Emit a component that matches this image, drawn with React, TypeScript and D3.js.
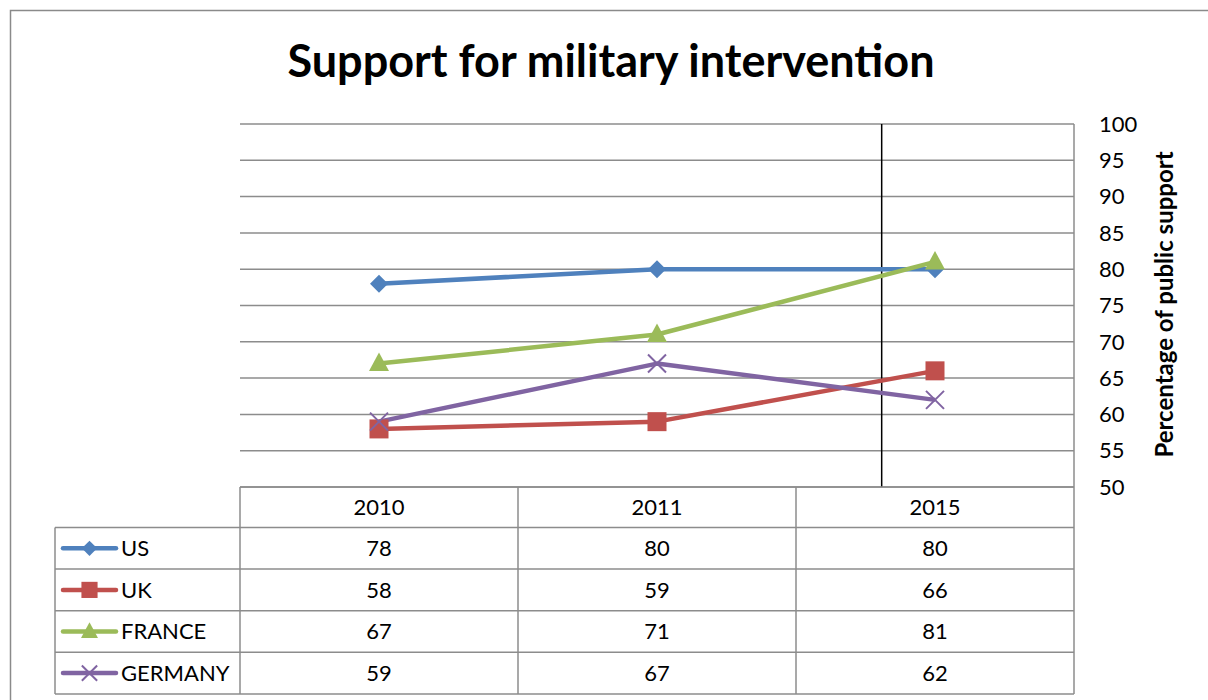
import React from "react";
import * as d3 from "d3";

const categories = ["2010", "2011", "2015"];
const seriesNames = ["US", "UK", "FRANCE", "GERMANY"];
const usValues = [78, 80, 80];
const ukValues = [58, 59, 66];
const franceValues = [67, 71, 81];
const germanyValues = [59, 67, 62];
const yTicks = [50, 55, 60, 65, 70, 75, 80, 85, 90, 95, 100];
const markerLineCategoryPos = 2.31; // vertical marker line position in category units

const colors = ["#4F81BD", "#C0504D", "#9BBB59", "#8064A2"];
const markers = ["diamond", "square", "triangle", "x"];
const allValues = [usValues, ukValues, franceValues, germanyValues];

const W = 1208;
const H = 700;
const plotL = 240;
const plotR = 1074;
const plotT = 124;
const plotB = 487;
const tableL = 55;
const headerH = 40.5;
const rowH = 41.6;
const font = "Lato, 'Open Sans', sans-serif";
const gridColor = "#8c8c8c";

function Marker({ type, x, y, color, s = 1 }: { type: string; x: number; y: number; color: string; s?: number }) {
  if (type === "diamond") {
    const r = 9 * s;
    return <path d={`M${x},${y - r}L${x + r},${y}L${x},${y + r}L${x - r},${y}Z`} fill={color} />;
  }
  if (type === "square") {
    const r = 9.5 * s;
    return <rect x={x - r} y={y - r} width={2 * r} height={2 * r} fill={color} />;
  }
  if (type === "triangle") {
    const r = 10 * s;
    return <path d={`M${x},${y - r * 1.1}L${x + r},${y + r * 0.75}L${x - r},${y + r * 0.75}Z`} fill={color} />;
  }
  const r = 9 * s;
  return (
    <path d={`M${x - r},${y - r}L${x + r},${y + r}M${x - r},${y + r}L${x + r},${y - r}`} stroke={color} strokeWidth={2} fill="none" />
  );
}

export default function App() {
  const x = d3.scaleBand<string>().domain(categories).range([plotL, plotR]).paddingInner(0).paddingOuter(0);
  const y = d3.scaleLinear().domain([50, 100]).range([plotB, plotT]);
  const cx = (c: string) => (x(c) as number) + x.bandwidth() / 2;
  const line = d3
    .line<number>()
    .x((_, i) => cx(categories[i]))
    .y((v) => y(v));
  const vlineX = plotL + x.bandwidth() * markerLineCategoryPos - 0.5;

  const tableBottom = plotB + headerH + rowH * seriesNames.length;

  return (
    <svg
      width={W}
      height={H}
      style={{ position: "absolute", left: 0, top: 0, background: "#fff" }}
      fontFamily={font}
    >
      <rect x={0} y={0} width={W} height={H} fill="#fff" />
      {/* outer chart border */}
      <rect x={10.5} y={10.5} width={W + 20} height={H + 20} fill="none" stroke="#8a8a8a" strokeWidth={1.5} />
      {/* title */}
      <text x={611} y={77} textAnchor="middle" fontSize={45} fontWeight="bold" fill="#000">
        Support for military intervention
      </text>

      {/* gridlines */}
      {yTicks.map((t) => (
        <line key={t} x1={plotL} x2={plotR} y1={y(t)} y2={y(t)} stroke={gridColor} strokeWidth={1.5} />
      ))}
      {/* right axis line */}
      <line x1={plotR} x2={plotR} y1={plotT} y2={plotB} stroke={gridColor} strokeWidth={1.5} />
      {/* y tick labels */}
      {yTicks.map((t) => (
        <text key={t} x={1099} y={y(t)} dy="0.35em" fontSize={22} fill="#000">
          {t}
        </text>
      ))}
      {/* y axis title */}
      <text
        transform={`translate(1173,${(plotT + plotB) / 2 - 1}) rotate(-90)`}
        textAnchor="middle"
        fontSize={24}
        fontWeight="bold"
        fill="#000"
      >
        Percentage of public support
      </text>

      {/* vertical black line */}
      <line x1={vlineX} x2={vlineX} y1={plotT} y2={plotB} stroke="#000" strokeWidth={1.5} />

      {/* series lines */}
      {allValues.map((vals, i) => (
        <path key={i} d={line(vals) as string} fill="none" stroke={colors[i]} strokeWidth={4.5} strokeLinejoin="round" />
      ))}
      {allValues.map((vals, i) =>
        vals.map((v, j) => <Marker key={`${i}-${j}`} type={markers[i]} x={cx(categories[j])} y={y(v)} color={colors[i]} />)
      )}

      {/* data table */}
      <g stroke={gridColor} strokeWidth={1.5} fill="none">
        <line x1={plotL} x2={plotR} y1={plotB} y2={plotB} />
        {categories.map((c) => (
          <line key={c} x1={x(c)} x2={x(c)} y1={plotB} y2={tableBottom} />
        ))}
        <line x1={plotR} x2={plotR} y1={plotB} y2={tableBottom} />
        <line x1={tableL} x2={tableL} y1={plotB + headerH} y2={tableBottom} />
        {seriesNames.map((_, i) => (
          <line key={i} x1={tableL} x2={plotR} y1={plotB + headerH + rowH * i} y2={plotB + headerH + rowH * i} />
        ))}
        <line x1={tableL} x2={plotR} y1={tableBottom} y2={tableBottom} />
      </g>
      {categories.map((c) => (
        <text key={c} x={cx(c)} y={plotB + headerH / 2} dy="0.35em" textAnchor="middle" fontSize={22} fill="#000">
          {c}
        </text>
      ))}
      {seriesNames.map((name, i) => {
        const ry = plotB + headerH + rowH * i + rowH / 2;
        return (
          <g key={name}>
            <line x1={63} x2={116} y1={ry} y2={ry} stroke={colors[i]} strokeWidth={4.5} strokeLinecap="round" />
            <Marker type={markers[i]} x={89.5} y={ry} color={colors[i]} s={0.85} />
            <text x={121} y={ry} dy="0.35em" fontSize={22} fill="#000">
              {name}
            </text>
            {allValues[i].map((v, j) => (
              <text key={j} x={cx(categories[j])} y={ry} dy="0.35em" textAnchor="middle" fontSize={22} fill="#000">
                {v}
              </text>
            ))}
          </g>
        );
      })}
    </svg>
  );
}
